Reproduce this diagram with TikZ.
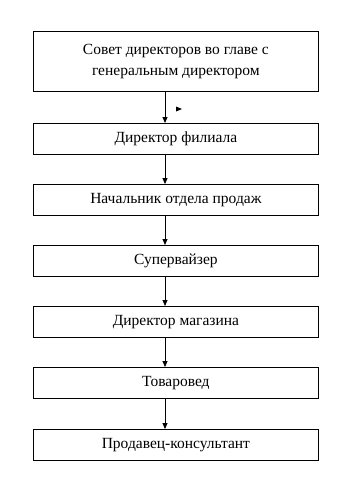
\documentclass[tikz,border=0pt]{standalone}
\usepackage{fontspec}
\setmainfont{Liberation Serif}
\usetikzlibrary{arrows.meta,positioning}
\begin{document}
\begin{tikzpicture}[x=1pt,y=-1pt,
  box/.style={draw, line width=0.8pt, minimum width=285pt, minimum height=31pt, inner sep=0pt, align=center, font=\fontsize{15.5}{21}\selectfont, anchor=north west},
  conn/.style={line width=0.8pt, -{Triangle[width=5pt,length=6pt]}}]
\useasboundingbox (0,0) rectangle (354,499);
\node[box, minimum height=60pt] (b1) at (33,31) {Совет директоров во главе с\\генеральным директором};
\node[box] (b2) at (33,123) {Директор филиала};
\node[box] (b3) at (33,184) {Начальник отдела продаж};
\node[box] (b4) at (33,245) {Супервайзер};
\node[box] (b5) at (33,306) {Директор магазина};
\node[box] (b6) at (33,367) {Товаровед};
\node[box] (b7) at (33,429) {Продавец-консультант};
\coordinate (ax) at (165,0);
\draw[conn] (b1.south -| ax) -- (b2.north -| ax);
\draw[conn] (b2.south -| ax) -- (b3.north -| ax);
\draw[conn] (b3.south -| ax) -- (b4.north -| ax);
\draw[conn] (b4.south -| ax) -- (b5.north -| ax);
\draw[conn] (b5.south -| ax) -- (b6.north -| ax);
\draw[conn] (b6.south -| ax) -- (b7.north -| ax);
\coordinate (stray) at (176,106.5);
\fill (stray) -- ++(6,2.5) -- ++(-6,2.5) -- cycle;
\end{tikzpicture}
\end{document}
